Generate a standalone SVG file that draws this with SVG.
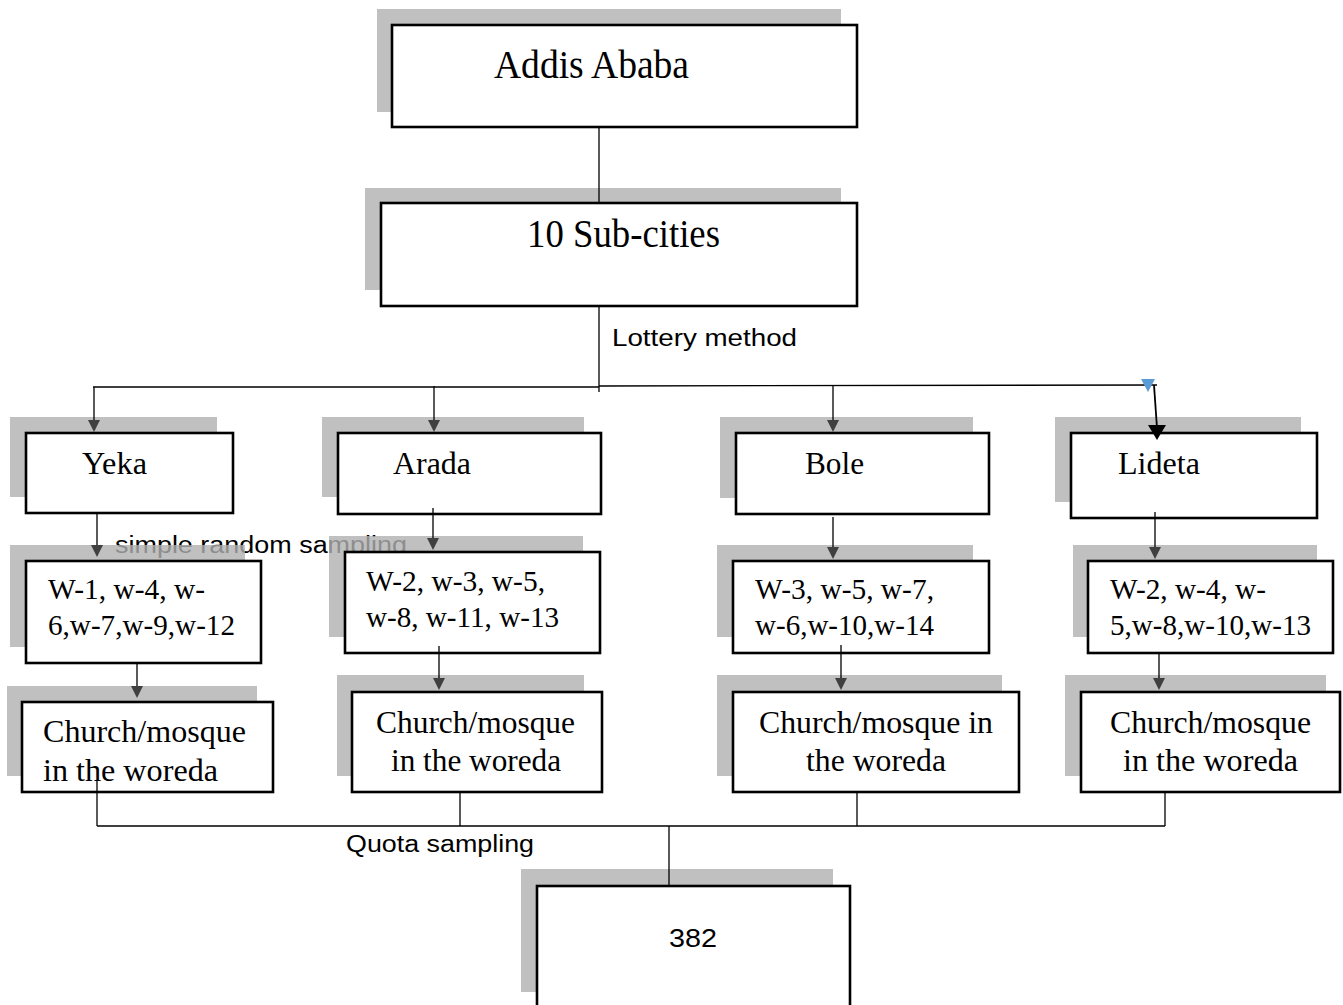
<svg xmlns="http://www.w3.org/2000/svg" width="1343" height="1005" viewBox="0 0 1343 1005">
<style>
.shadow{fill:#b0b0b0;opacity:0.8}
.box{fill:#fff;stroke:#000;stroke-width:2.6}
.serif{font-family:"Liberation Serif","Times New Roman",serif;fill:#000}
.sans{font-family:"Liberation Sans",Arial,sans-serif;fill:#000}
.conn line{stroke:#000;stroke-width:1.3}
.ah{fill:#404040}
</style>
<rect width="1343" height="1005" fill="#fff"/>
<text class="sans" x="115" y="553" font-size="23" textLength="292" lengthAdjust="spacingAndGlyphs">simple random sampling</text>

<g id="addis">
<rect class="shadow" x="377" y="9" width="464" height="103"/>
<rect class="box" x="392" y="25" width="465" height="102"/>
<text class="serif" x="494" y="78" font-size="39" textLength="195" lengthAdjust="spacingAndGlyphs">Addis Ababa</text>
</g>
<g id="subcities">
<rect class="shadow" x="365" y="188" width="476" height="102"/>
<rect class="box" x="381" y="203" width="476" height="103"/>
<text class="serif" x="527" y="247" font-size="39" textLength="193" lengthAdjust="spacingAndGlyphs">10 Sub-cities</text>
</g>

<g id="yeka">
<rect class="shadow" x="10" y="417" width="207" height="80"/>
<rect class="box" x="26" y="433" width="207" height="80"/>
<text class="serif" x="82" y="474" font-size="32" textLength="65" lengthAdjust="spacingAndGlyphs">Yeka</text>
</g>
<g id="arada">
<rect class="shadow" x="322" y="417" width="262" height="80"/>
<rect class="box" x="338" y="433" width="263" height="81"/>
<text class="serif" x="393" y="474" font-size="32" textLength="78" lengthAdjust="spacingAndGlyphs">Arada</text>
</g>
<g id="bole">
<rect class="shadow" x="720" y="417" width="253" height="81"/>
<rect class="box" x="736" y="433" width="253" height="81"/>
<text class="serif" x="805" y="474" font-size="32" textLength="59" lengthAdjust="spacingAndGlyphs">Bole</text>
</g>
<g id="lideta">
<rect class="shadow" x="1055" y="417" width="246" height="85"/>
<rect class="box" x="1071" y="433" width="246" height="85"/>
<text class="serif" x="1118" y="474" font-size="32" textLength="82" lengthAdjust="spacingAndGlyphs">Lideta</text>
</g>

<g id="yeka-woredas">
<rect class="shadow" x="10" y="545" width="235" height="102"/>
<rect class="box" x="26" y="561" width="235" height="102"/>
<text class="serif" x="48" y="599" font-size="30" textLength="157" lengthAdjust="spacingAndGlyphs">W-1, w-4, w-</text>
<text class="serif" x="48" y="635" font-size="30" textLength="187" lengthAdjust="spacingAndGlyphs">6,w-7,w-9,w-12</text>
</g>
<g id="arada-woredas">
<rect class="shadow" x="329" y="536" width="254" height="101"/>
<rect class="box" x="345" y="552" width="255" height="101"/>
<text class="serif" x="366" y="591" font-size="30" textLength="179" lengthAdjust="spacingAndGlyphs">W-2, w-3, w-5,</text>
<text class="serif" x="366" y="627" font-size="30" textLength="193" lengthAdjust="spacingAndGlyphs">w-8, w-11, w-13</text>
</g>
<g id="bole-woredas">
<rect class="shadow" x="717" y="545" width="256" height="92"/>
<rect class="box" x="733" y="561" width="256" height="92"/>
<text class="serif" x="755" y="599" font-size="30" textLength="179" lengthAdjust="spacingAndGlyphs">W-3, w-5, w-7,</text>
<text class="serif" x="755" y="635" font-size="30" textLength="179" lengthAdjust="spacingAndGlyphs">w-6,w-10,w-14</text>
</g>
<g id="lideta-woredas">
<rect class="shadow" x="1073" y="545" width="244" height="92"/>
<rect class="box" x="1088" y="561" width="245" height="92"/>
<text class="serif" x="1110" y="599" font-size="30" textLength="156" lengthAdjust="spacingAndGlyphs">W-2, w-4, w-</text>
<text class="serif" x="1110" y="635" font-size="30" textLength="201" lengthAdjust="spacingAndGlyphs">5,w-8,w-10,w-13</text>
</g>

<g id="yeka-church">
<rect class="shadow" x="7" y="686" width="250" height="90"/>
<rect class="box" x="22" y="702" width="251" height="90"/>
<text class="serif" x="43" y="742" font-size="32" textLength="203" lengthAdjust="spacingAndGlyphs">Church/mosque</text>
<text class="serif" x="43" y="781" font-size="32" textLength="175" lengthAdjust="spacingAndGlyphs">in the woreda</text>
</g>
<g id="arada-church">
<rect class="shadow" x="337" y="675" width="247" height="101"/>
<rect class="box" x="352" y="692" width="250" height="100"/>
<text class="serif" x="376" y="733" font-size="32" textLength="199" lengthAdjust="spacingAndGlyphs">Church/mosque</text>
<text class="serif" x="391" y="771" font-size="32" textLength="170" lengthAdjust="spacingAndGlyphs">in the woreda</text>
</g>
<g id="bole-church">
<rect class="shadow" x="717" y="675" width="285" height="101"/>
<rect class="box" x="733" y="692" width="286" height="100"/>
<text class="serif" x="759" y="733" font-size="32" textLength="234" lengthAdjust="spacingAndGlyphs">Church/mosque in</text>
<text class="serif" x="806" y="771" font-size="32" textLength="140" lengthAdjust="spacingAndGlyphs">the woreda</text>
</g>
<g id="lideta-church">
<rect class="shadow" x="1065" y="675" width="261" height="101"/>
<rect class="box" x="1081" y="692" width="259" height="100"/>
<text class="serif" x="1110" y="733" font-size="32" textLength="201" lengthAdjust="spacingAndGlyphs">Church/mosque</text>
<text class="serif" x="1123" y="771" font-size="32" textLength="175" lengthAdjust="spacingAndGlyphs">in the woreda</text>
</g>

<g id="total">
<rect class="shadow" x="521" y="869" width="312" height="123"/>
<rect class="box" x="537" y="886" width="313" height="130"/>
<text class="sans" x="669" y="947" font-size="26" textLength="48" lengthAdjust="spacingAndGlyphs">382</text>
</g>

<g id="connectors" class="conn">
<line x1="599" y1="127" x2="599" y2="203"/>
<line x1="599" y1="306" x2="599" y2="392"/>
<line x1="93" y1="387" x2="599" y2="387"/>
<line x1="599" y1="386" x2="1157" y2="385"/>
<line x1="94" y1="387" x2="94" y2="425"/>
<line x1="434" y1="386" x2="434" y2="425"/>
<line x1="833" y1="386" x2="833" y2="425"/>
<line x1="1154" y1="385" x2="1157" y2="428" style="stroke-width:1.8"/>
<line x1="97" y1="513" x2="97" y2="550"/>
<line x1="433" y1="508" x2="433" y2="543"/>
<line x1="833" y1="517" x2="833" y2="552"/>
<line x1="1155" y1="512" x2="1155" y2="552"/>
<line x1="137" y1="663" x2="137" y2="691"/>
<line x1="439" y1="646" x2="439" y2="683"/>
<line x1="841" y1="645" x2="841" y2="683"/>
<line x1="1159" y1="653" x2="1159" y2="683"/>
<line x1="97" y1="780" x2="97" y2="826"/>
<line x1="460" y1="792" x2="460" y2="826"/>
<line x1="857" y1="792" x2="857" y2="826"/>
<line x1="1165" y1="792" x2="1165" y2="826"/>
<line x1="97" y1="826" x2="1165" y2="826"/>
<line x1="669" y1="826" x2="669" y2="886"/>
<polygon class="ah" points="88,420 100,420 94,432"/>
<polygon class="ah" points="428,420 440,420 434,432"/>
<polygon class="ah" points="827,420 839,420 833,432"/>
<polygon points="1148,425 1166,425 1157,440" fill="#000"/>
<polygon points="1141,379 1155,379 1148,392" fill="#5b9bd5"/>
<polygon class="ah" points="91,545 103,545 97,557"/>
<polygon class="ah" points="427,538 439,538 433,550"/>
<polygon class="ah" points="827,547 839,547 833,559"/>
<polygon class="ah" points="1149,547 1161,547 1155,559"/>
<polygon class="ah" points="131,686 143,686 137,698"/>
<polygon class="ah" points="433,678 445,678 439,690"/>
<polygon class="ah" points="835,678 847,678 841,690"/>
<polygon class="ah" points="1153,678 1165,678 1159,690"/>
</g>

<text class="sans" x="612" y="346" font-size="23" textLength="185" lengthAdjust="spacingAndGlyphs">Lottery method</text>
<text class="sans" x="346" y="852" font-size="23" textLength="188" lengthAdjust="spacingAndGlyphs">Quota sampling</text>
</svg>
